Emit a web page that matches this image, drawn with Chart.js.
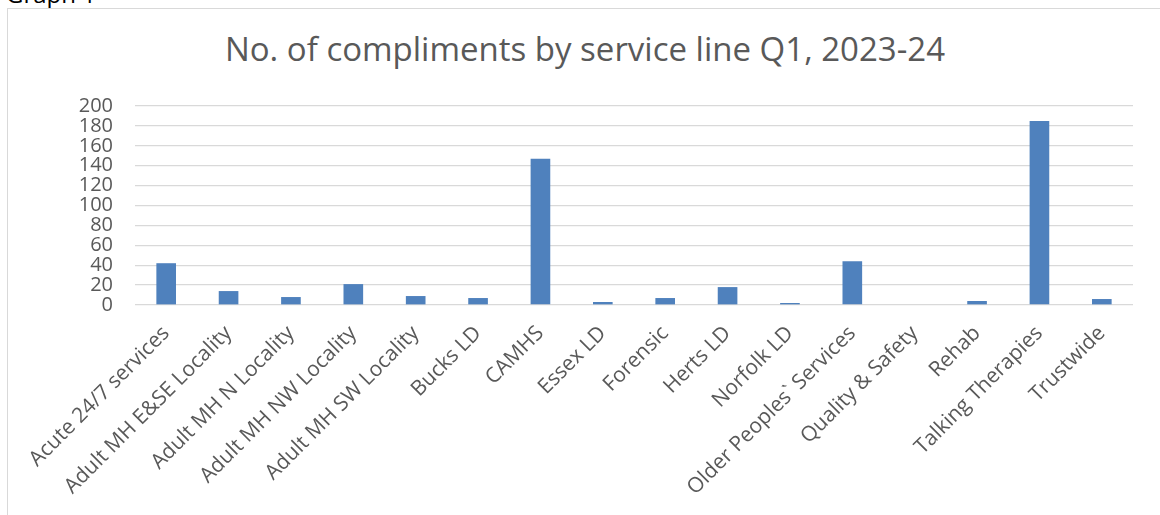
<!DOCTYPE html>
<html>
<head>
<meta charset="utf-8">
<script src="https://cdn.jsdelivr.net/npm/chart.js@4"></script>
<style>
  html, body { margin: 0; padding: 0; background: #fff; overflow: hidden; }
  #wrap { position: relative; width: 1160px; height: 515px; }
  #caption { position: absolute; left: 6px; top: -23px; font-family: "Open Sans", sans-serif; font-size: 24px; color: #000; }
  #frame { position: absolute; left: 7px; top: 8px; width: 1200px; height: 600px; border: 1px solid #d9d9d9; }
  #title { position: absolute; left: 7px; top: 29px; width: 1156px; text-align: center; line-height: 40px;
           font-family: "Open Sans", sans-serif; font-size: 33px; color: #595959; white-space: nowrap; }
  #complimentsBar { position: absolute; left: 0; top: 0; }
</style>
</head>
<body>
<div id="wrap">
  <div id="caption">Graph 1</div>
  <div id="frame"></div>
  <div id="title"></div>
  <canvas id="complimentsBar" width="1160" height="515"></canvas>
</div>
<script>
var serviceLines = [
  "Acute 24/7 services",
  "Adult MH E&SE Locality",
  "Adult MH N Locality",
  "Adult MH NW Locality",
  "Adult MH SW Locality",
  "Bucks LD",
  "CAMHS",
  "Essex LD",
  "Forensic",
  "Herts LD",
  "Norfolk LD",
  "Older Peoples` Services",
  "Quality & Safety",
  "Rehab",
  "Talking Therapies",
  "Trustwide"
];
var compliments = [42, 14, 8, 21, 9, 7, 147, 3, 7, 18, 2, 44, 0, 4, 185, 6];
var yTicks = [0, 20, 40, 60, 80, 100, 120, 140, 160, 180, 200];

var chartTitle = "No. of compliments by service line Q1, 2023-24";
var textGrey = "#595959";
var fontFace = "'Open Sans', sans-serif";

// title sits centred on the whole frame, not on the plot area
document.getElementById("title").textContent = chartTitle;

var ctx = document.getElementById("complimentsBar");
var complimentsChart = new Chart(ctx, {
  type: "bar",
  data: {
    labels: serviceLines,
    datasets: [{
      label: "Compliments",
      data: compliments,
      backgroundColor: "#4f81bd",
      borderWidth: 0,
      categoryPercentage: 1,
      barPercentage: 0.315
    }]
  },
  options: {
    responsive: false,
    animation: false,
    events: [],
    layout: {
      padding: { left: 0, right: 27, top: 106, bottom: 0 }
    },
    plugins: {
      legend: { display: false },
      tooltip: { enabled: false },
      title: { display: false }
    },
    scales: {
      x: {
        grid: { display: false },
        border: { display: false },
        ticks: {
          autoSkip: false,
          minRotation: 45,
          maxRotation: 45,
          color: textGrey,
          padding: 8,
          font: { family: fontFace, size: 21 }
        },
        afterFit: function (scale) {
          scale.height = 210;
        }
      },
      y: {
        min: 0,
        max: 200,
        afterBuildTicks: function (scale) {
          scale.ticks = yTicks.map(function (v) { return { value: v }; });
        },
        grid: { color: "#d9d9d9", lineWidth: 1.3, drawTicks: false },
        border: { display: false },
        ticks: {
          autoSkip: false,
          color: textGrey,
          padding: 22,
          font: { family: fontFace, size: 20 }
        },
        afterFit: function (scale) {
          scale.width = 135;
        }
      }
    }
  }
});
</script>
</body>
</html>
